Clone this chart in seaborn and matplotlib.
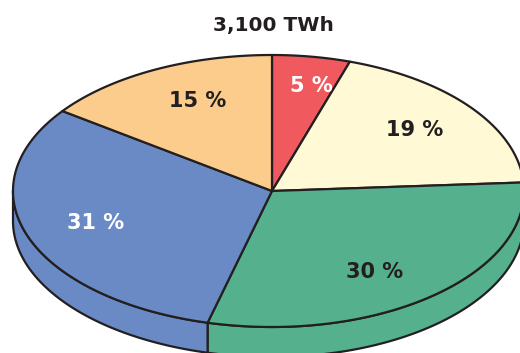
import numpy as np
import matplotlib
matplotlib.use("Agg")
import matplotlib.pyplot as plt
from matplotlib.patches import Polygon
import seaborn as sns

# Electricity generation shares (3,100 TWh total)
title = "3,100 TWh"
shares = [5, 19, 30, 31, 15]
labels = ["5 %", "19 %", "30 %", "31 %", "15 %"]
colors = ["#F05A5F", "#FFF9D6", "#55B08E", "#6A8AC6", "#FCCC8C"]
label_colors = ["white", "#231F20", "#231F20", "white", "#231F20"]

sns.set_theme(style="white")
plt.rcParams["font.family"] = ["DejaVu Sans"]

W, H = 520, 353
fig = plt.figure(figsize=(W / 100, H / 100), dpi=100)
ax = fig.add_axes([0, 0, 1, 1])
ax.set_xlim(0, W)
ax.set_ylim(H, 0)
ax.axis("off")

# geometry of the tilted pie in screen units; the drawing is slightly
# narrower on the right-hand side than on the left
cx, cy = 272, 191
a_left, a_right = 259, 252
b = 136
depth = 30
edge = "#231F20"
lw = 1.6


def pt(theta_deg, dy=0.0):
    t = np.deg2rad(theta_deg)
    c = np.cos(t)
    a = a_right if c >= 0 else a_left
    return cx + a * c, cy - b * np.sin(t) + dy


# slices run clockwise from twelve o'clock
bounds = 90 - 3.6 * np.concatenate([[0], np.cumsum(shares)])

# side walls: the visible front rim (angles with negative sine)
for i in range(len(shares)):
    lo, hi = bounds[i + 1], bounds[i]
    for shift in (0, 360, -360):
        l2, h2 = max(lo + shift, -180), min(hi + shift, 0)
        if h2 > l2:
            ts = np.linspace(l2, h2, 80)
            top = [pt(t) for t in ts]
            bot = [pt(t, depth) for t in ts[::-1]]
            ax.add_patch(Polygon(top + bot, closed=True, facecolor=colors[i],
                                 edgecolor=edge, lw=lw, joinstyle="round", zorder=1))

# top faces
for i in range(len(shares)):
    ts = np.linspace(bounds[i], bounds[i + 1], 120)
    verts = [(cx, cy)] + [pt(t) for t in ts]
    ax.add_patch(Polygon(verts, closed=True, facecolor=colors[i],
                         edgecolor=edge, lw=lw, joinstyle="round", zorder=2))

# percentage labels near each slice's mid angle
label_nudge_deg = [-2.5, 0.5, -5.0, -1.0, -3.5]
for i in range(len(shares)):
    mid = (bounds[i] + bounds[i + 1]) / 2 + label_nudge_deg[i]
    r = 0.79 if shares[i] < 8 else 0.72
    x, y = pt(mid)
    x = cx + r * (x - cx)
    y = cy + r * (y - cy)
    ax.text(x, y, labels[i], ha="center", va="center", fontsize=15,
            fontweight="bold", color=label_colors[i], zorder=3)

ax.text(273, 26, title, ha="center", va="center", fontsize=14.5,
        fontweight="bold", color=edge)

fig.savefig("out.png", dpi=100, facecolor="white")
